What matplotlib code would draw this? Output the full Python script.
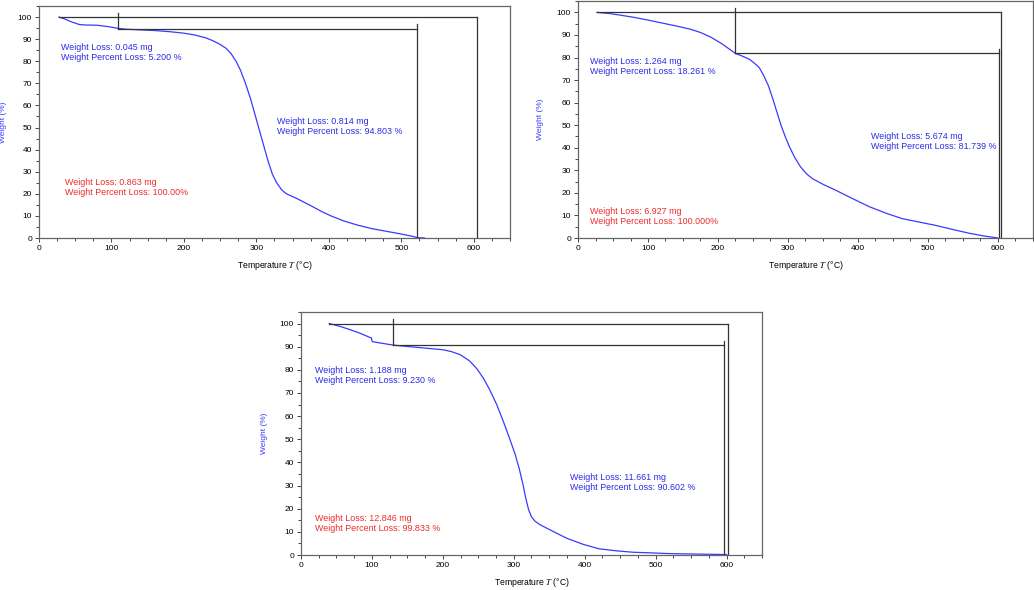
import matplotlib
matplotlib.use("Agg")
from matplotlib import pyplot as plt
from matplotlib.ticker import MultipleLocator

plt.rcParams['font.family'] = ['Liberation Sans', 'DejaVu Sans']
plt.rcParams['mathtext.fontset'] = 'stix'

# panel 1
temp_a = [27.6, 35, 45, 56, 65, 80, 95, 109, 120, 140, 160, 180, 200, 215, 230, 240, 250,
          258, 265, 272, 278, 285, 292, 298, 304, 310, 316, 322, 328, 335, 341, 355, 373,
          390, 403, 420, 440, 460, 480, 500, 515, 522, 532]
weight_a = [100, 99.2, 97.8, 96.6, 96.4, 96.3, 95.7, 94.9, 94.5, 94.2, 93.9, 93.4, 92.7,
            91.9, 90.6, 89.3, 87.6, 85.9, 83.5, 80, 76, 70, 63, 56, 49, 42, 35, 29, 25,
            21.8, 20.1, 18, 15, 12, 10, 7.8, 5.8, 4.2, 3, 1.8, 0.8, 0.2, 0]
# panel 2
temp_b = [27, 45, 60, 80, 100, 120, 140, 160, 175, 190, 205, 215, 225, 235, 245, 252, 259,
          265, 272, 278, 284, 290, 296, 302, 310, 318, 327, 335, 350, 368, 390, 416, 440,
          463, 490, 511, 535, 559, 580, 597, 600]
weight_b = [100, 99.5, 98.8, 97.8, 96.6, 95.3, 94, 92.6, 91.1, 89, 86.2, 84, 81.8, 80.6,
            79.2, 77.5, 75.5, 72.2, 67.5, 62, 56, 50, 45, 40.5, 35.5, 31.5, 28.3, 26.3,
            23.8, 21.2, 17.8, 13.9, 11, 8.6, 6.9, 5.6, 3.8, 2.1, 0.9, 0.15, 0]
# panel 3
temp_c = [40, 55, 69, 82, 92, 99.5, 100.5, 110, 130, 150, 175, 200, 212, 225, 238, 248,
          257, 266, 276, 285, 294, 302, 308, 313, 317, 321, 325, 330, 336, 342, 358, 375,
          398, 420, 445, 468, 495, 520, 560, 600]
weight_c = [100, 98.8, 97.4, 96, 94.7, 93.7, 92.2, 91.7, 90.7, 90.1, 89.4, 88.7, 87.9,
            86.5, 83.8, 80.5, 76.5, 71.5, 65, 58, 50.5, 43.5, 37, 30.5, 24.5, 19.5, 16.5,
            14.6, 13.3, 12.3, 9.8, 7.2, 4.6, 2.7, 1.8, 1.2, 0.9, 0.6, 0.4, 0.2]

# step analysis: (start T, end T, level 1), (step T, end T, level 2)
steps_a = [(27.6, 604, 100), (109, 522, 94.8)]
steps_b = [(27, 604, 100), (225, 602, 81.8)]
steps_c = [(40, 602, 100), (130, 596, 90.6)]

labels_a = [("Weight Loss: 0.045 mg\nWeight Percent Loss: 5.200 %", 30, 84.1, 'b'),
            ("Weight Loss: 0.814 mg\nWeight Percent Loss: 94.803 %", 329, 50.5, 'b'),
            ("Weight Loss: 0.863 mg\nWeight Percent Loss: 100.00%", 36, 23.0, 'r')]
labels_b = [("Weight Loss: 1.264 mg\nWeight Percent Loss: 18.261 %", 16.6, 76.0, 'b'),
            ("Weight Loss: 5.674 mg\nWeight Percent Loss: 81.739 %", 418, 42.8, 'b'),
            ("Weight Loss: 6.927 mg\nWeight Percent Loss: 100.000%", 16.6, 9.6, 'r')]
labels_c = [("Weight Loss: 1.188 mg\nWeight Percent Loss: 9.230 %", 19.7, 77.7, 'b'),
            ("Weight Loss: 11.661 mg\nWeight Percent Loss: 90.602 %", 380, 31.2, 'b'),
            ("Weight Loss: 12.846 mg\nWeight Percent Loss: 99.833 %", 20, 13.5, 'r')]

colors = {'b': '#2a2ae8', 'r': '#f02a2a'}

fig = plt.figure(figsize=(10.34, 5.9), dpi=100)
ax1 = fig.add_axes([0.0377, 0.5966, 0.4555, 0.3932])
ax2 = fig.add_axes([0.559, 0.5966, 0.440, 0.4015])
ax3 = fig.add_axes([0.291, 0.0593, 0.446, 0.4119])


def draw(ax, temp, weight, steps, labels, ylab_x):
    ax.plot(temp, weight, color='#3a3aff', lw=0.9)
    (t0, t1, lev1), (ts, te, lev2) = steps
    lc = '#333333'
    ax.plot([t0, t1], [lev1, lev1], color=lc, lw=0.9)
    ax.plot([t1, t1], [lev1, 0], color=lc, lw=0.9)
    ax.plot([ts, ts], [lev2, lev1 + 2], color=lc, lw=0.9)
    ax.plot([ts, te], [lev2, lev2], color=lc, lw=0.9)
    ax.plot([te, te], [lev2 + 2, 0], color=lc, lw=0.9)
    for txt, x, y, c in labels:
        ax.text(x, y, txt, color=colors[c], fontsize=6.4, va='center', ha='left',
                linespacing=1.1)
    ax.set_xlim(0, 650)
    ax.set_ylim(0, 105)
    ax.xaxis.set_major_locator(MultipleLocator(100))
    ax.xaxis.set_minor_locator(MultipleLocator(25))
    ax.yaxis.set_major_locator(MultipleLocator(10))
    ax.yaxis.set_minor_locator(MultipleLocator(5))
    ax.tick_params(which='both', direction='out', labelsize=6, color='#444444',
                   width=0.7, pad=2)
    ax.tick_params(which='major', length=3)
    ax.tick_params(which='minor', length=2)
    for s in ax.spines.values():
        s.set_color('#666666')
        s.set_linewidth(0.9)
    ax.set_xlabel('Temperature $T$ (°C)', fontsize=6.2, labelpad=5)
    ax.set_ylabel('Weight (%)', fontsize=6, color='#3a3aff')
    ax.yaxis.set_label_coords(ylab_x, 0.5)


draw(ax1, temp_a, weight_a, steps_a, labels_a, -0.068)
draw(ax2, temp_b, weight_b, steps_b, labels_b, -0.075)
draw(ax3, temp_c, weight_c, steps_c, labels_c, -0.072)

fig.savefig('out.png', dpi=100)
